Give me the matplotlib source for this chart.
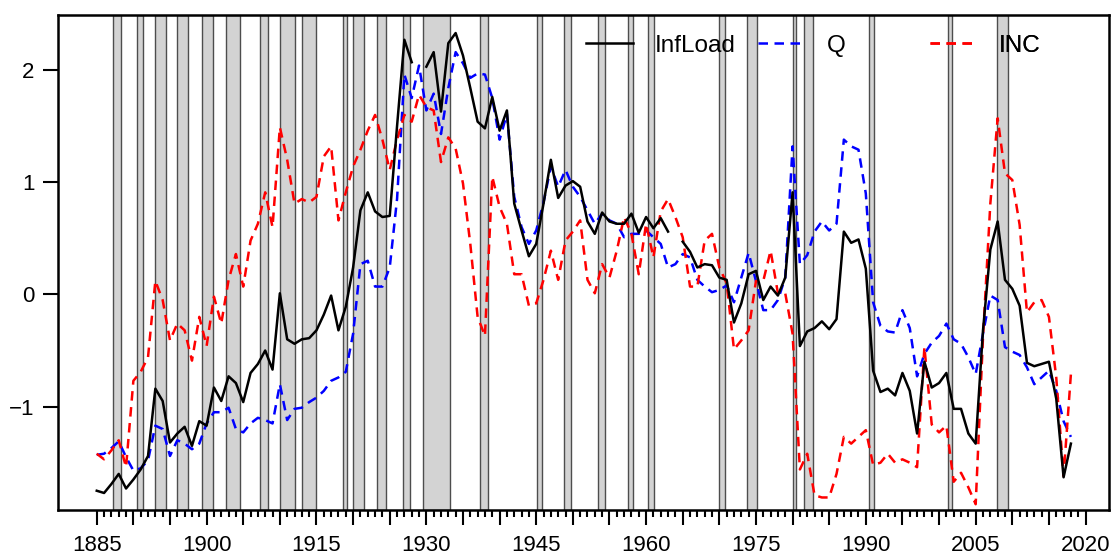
import numpy as np
import matplotlib
matplotlib.use('Agg')
import matplotlib.pyplot as plt
from matplotlib.ticker import FixedLocator, FuncFormatter

plt.rcParams['font.family'] = ['Liberation Sans', 'DejaVu Sans']

years = np.arange(1885, 2019)

infload = [-1.75, -1.77, -1.69, -1.60, -1.73, -1.65, -1.56, -1.44, -0.84, -0.95,
           -1.32, -1.24, -1.18, -1.35, -1.13, -1.17, -0.83, -0.95, -0.73, -0.79,
           -0.96, -0.70, -0.62, -0.50, -0.67, 0.01, -0.40, -0.44, -0.40, -0.39,
           -0.32, -0.18, -0.01, -0.32, -0.11, 0.24, 0.75, 0.91, 0.74, 0.69,
           0.70, 1.50, 2.27, 2.07, np.nan, 2.03, 2.16, 1.63, 2.24, 2.33,
           2.13, 1.84, 1.54, 1.48, 1.76, 1.46, 1.64, 0.81, 0.57, 0.34,
           0.45, 0.81, 1.20, 0.86, 0.97, 1.01, 0.96, 0.65, 0.54, 0.73,
           0.65, 0.63, 0.63, 0.72, 0.55, 0.69, 0.59, 0.68, 0.56, np.nan,
           0.47, 0.38, 0.24, 0.27, 0.26, 0.15, 0.13, -0.25, -0.08, 0.18,
           0.21, -0.05, 0.07, -0.01, 0.15, 0.91, -0.46, -0.33, -0.30, -0.24,
           -0.31, -0.22, 0.56, 0.46, 0.49, 0.23, -0.68, -0.87, -0.84, -0.90,
           -0.70, -0.86, -1.24, -0.60, -0.83, -0.79, -0.70, -1.02, -1.02, -1.24,
           -1.33, -0.32, 0.40, 0.65, 0.13, 0.05, -0.10, -0.61, -0.64, -0.62,
           -0.60, -0.93, -1.63, -1.33]

q = [-1.43, -1.42, -1.37, -1.31, -1.45, -1.57, -1.55, -1.48, -1.17, -1.20,
     -1.44, -1.30, -1.33, -1.38, -1.33, -1.15, -1.05, -1.05, -1.01, -1.20,
     -1.23, -1.15, -1.10, -1.12, -1.15, -0.80, -1.12, -1.02, -1.01, -0.96,
     -0.92, -0.86, -0.77, -0.74, -0.69, -0.35, 0.27, 0.30, 0.07, 0.07,
     0.24, 0.85, 1.96, 1.75, 2.04, 1.64, 1.79, 1.43, 1.84, 2.16,
     2.06, 1.93, 1.97, 1.96, 1.75, 1.38, 1.61, 0.87, 0.60, 0.45,
     0.57, 0.82, 1.14, 0.96, 1.11, 0.96, 0.87, 0.75, 0.63, 0.72,
     0.66, 0.63, 0.51, 0.54, 0.54, 0.57, 0.51, 0.45, 0.24, 0.27,
     0.36, 0.33, 0.13, 0.07, 0.02, 0.04, 0.08, -0.07, 0.15, 0.37,
     0.12, -0.14, -0.14, -0.05, 0.15, 1.32, 0.27, 0.35, 0.56, 0.65,
     0.57, 0.63, 1.38, 1.32, 1.29, 0.90, -0.07, -0.28, -0.33, -0.34,
     -0.14, -0.30, -0.73, -0.53, -0.43, -0.37, -0.26, -0.40, -0.44, -0.56,
     -0.71, -0.35, -0.01, -0.05, -0.47, -0.51, -0.54, -0.65, -0.80, -0.74,
     -0.68, -0.86, -1.13, -1.27]

inc = [-1.42, -1.47, -1.39, -1.30, -1.54, -0.77, -0.69, -0.56, 0.12, -0.05,
       -0.41, -0.26, -0.32, -0.59, -0.20, -0.46, -0.02, -0.26, 0.13, 0.36,
       0.07, 0.48, 0.63, 0.91, 0.60, 1.49, 1.20, 0.81, 0.85, 0.82,
       0.87, 1.23, 1.32, 0.66, 0.91, 1.14, 1.29, 1.46, 1.60, 1.38,
       1.11, 1.38, 1.60, 1.54, 1.78, 1.67, 1.64, 1.18, 1.40, 1.30,
       0.99, 0.45, -0.20, -0.37, 1.05, 0.78, 0.63, 0.18, 0.18, -0.10,
       -0.08, 0.13, 0.39, 0.13, 0.48, 0.56, 0.66, 0.13, 0.01, 0.27,
       0.15, 0.39, 0.69, 0.54, 0.18, 0.63, 0.33, 0.74, 0.85, 0.69,
       0.51, 0.07, 0.07, 0.48, 0.54, 0.24, 0.10, -0.49, -0.41, -0.32,
       0.12, 0.12, 0.39, 0.01, 0.01, -0.35, -1.56, -1.42, -1.79, -1.81,
       -1.81, -1.60, -1.27, -1.33, -1.27, -1.21, -1.52, -1.50, -1.42, -1.50,
       -1.47, -1.50, -1.54, -0.47, -1.16, -1.23, -1.17, -1.67, -1.59, -1.72,
       -1.87, -0.38, 0.81, 1.57, 1.08, 1.02, 0.62, -0.16, -0.07, -0.05,
       -0.20, -0.74, -1.62, -0.71]

# NBER recessions (peak, trough) as decimal years
rec_start = [1887.17, 1890.50, 1893.00, 1895.92, 1899.42, 1902.67, 1907.33, 1910.00,
             1913.00, 1918.58, 1920.00, 1923.33, 1926.75, 1929.58, 1937.33, 1945.08,
             1948.83, 1953.50, 1957.58, 1960.25, 1969.92, 1973.83, 1980.00, 1981.50,
             1990.50, 2001.17, 2007.92]
rec_end = [1888.25, 1891.33, 1894.42, 1897.42, 1900.92, 1904.58, 1908.42, 1912.00,
           1914.92, 1919.17, 1921.50, 1924.50, 1927.83, 1933.17, 1938.42, 1945.75,
           1949.75, 1954.33, 1958.25, 1961.08, 1970.83, 1975.17, 1980.50, 1982.83,
           1991.17, 2001.83, 2009.42]

fig = plt.figure(figsize=(11.14, 5.59), dpi=100)
ax = fig.add_axes([0.052, 0.088, 0.9435, 0.885])

for a, b in zip(rec_start, rec_end):
    ax.axvspan(a, b, facecolor='lightgray', edgecolor='0.3', lw=1, zorder=0)

l1, = ax.plot(years, infload, color='black', lw=1.8, zorder=3)
l2, = ax.plot(years, q, color='blue', lw=1.8, ls=(0, (3.8, 2.6)), zorder=2)
l3, = ax.plot(years, inc, color='red', lw=1.8, ls=(0, (3.8, 2.6)), zorder=2)

ax.set_xlim(1879.7, 2023.2)
ax.set_ylim(-1.92, 2.49)

ax.xaxis.set_major_locator(FixedLocator(np.arange(1885, 2021, 5)))
ax.xaxis.set_minor_locator(FixedLocator(np.arange(1885, 2021, 1)))
ax.xaxis.set_major_formatter(FuncFormatter(lambda v, p: '%d' % v if (round(v) - 1885) % 15 == 0 else ''))
ax.set_yticks([-1, 0, 1, 2])

ax.tick_params(axis='x', which='major', length=11, width=1.5, pad=7, labelsize=16)
ax.tick_params(axis='x', which='minor', length=5, width=1.5)
ax.tick_params(axis='y', which='major', length=11, width=1.5, pad=6, labelsize=16)
for s in ax.spines.values():
    s.set_linewidth(1.8)

for h, lab, xa in [(l1, 'InfLoad', 0.5024), (l2, 'Q', 0.666), (l3, 'INC', 0.8297)]:
    leg = ax.legend([h], [lab], loc='center left', bbox_to_anchor=(xa, 0.938),
                    frameon=False, fontsize=17.5, handlelength=1.93, handletextpad=0.9,
                    borderpad=0, borderaxespad=0)
    ax.add_artist(leg)

fig.savefig('out.png', dpi=100)
